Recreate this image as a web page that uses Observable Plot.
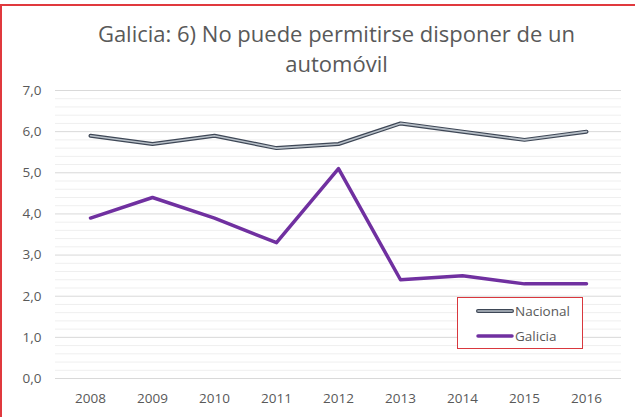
<!DOCTYPE html>
<html>
<head>
<meta charset="utf-8">
<script src="https://cdn.jsdelivr.net/npm/d3@7"></script>
<script src="https://cdn.jsdelivr.net/npm/@observablehq/plot@0.6"></script>
<style>
  html, body { margin: 0; padding: 0; background: #fff; }
  #wrap { position: relative; width: 635px; height: 417px; overflow: hidden; font-family: "Open Sans", sans-serif; }
  #frame { position: absolute; left: 0; top: 4px; width: 700px; height: 500px; border-left: 2px solid #e0393e; border-top: 2px solid #e0393e; box-sizing: border-box; pointer-events: none; }
  #title { position: absolute; left: 19px; width: 635px; top: 18px; text-align: center; color: #595959; font-size: 22px; line-height: 30px; }
  #chart { position: absolute; left: 0; top: 0; }
  #legend { position: absolute; left: 457px; top: 297px; width: 126px; height: 52px; border: 1px solid #d9383e; box-sizing: border-box; background: #fff; color: #595959; font-size: 13.5px; }
  .item { position: absolute; left: 18px; height: 20px; display: flex; align-items: center; }
  .item svg { margin-right: 1px; }
</style>
</head>
<body>
<div id="wrap">
  <div id="chart"></div>
  <div id="title">Galicia: 6) No puede permitirse disponer de un<br>automóvil</div>
  <div id="legend"></div>
  <div id="frame"></div>
</div>
<script>
const years = ["2008","2009","2010","2011","2012","2013","2014","2015","2016"];
const nacional = [5.9, 5.7, 5.9, 5.6, 5.7, 6.2, 6.0, 5.8, 6.0];
const galicia = [3.9, 4.4, 3.9, 3.3, 5.1, 2.4, 2.5, 2.3, 2.3];
const yMajorTicks = [0, 1, 2, 3, 4, 5, 6, 7];
const yMinorTicks = d3.range(0, 36).map(i => i / 5);
const seriesNames = ["Nacional", "Galicia"];

const nacData = years.map((y, i) => ({year: y, value: nacional[i]}));
const galData = years.map((y, i) => ({year: y, value: galicia[i]}));

const fmt = d => d.toFixed(1).replace(".", ",");

const plot = Plot.plot({
  width: 635,
  height: 417,
  marginLeft: 55,
  marginRight: 14,
  marginTop: 90,
  marginBottom: 39,
  style: {fontFamily: "Open Sans, sans-serif", fontSize: "13.5px", color: "#595959", background: "transparent"},
  x: {type: "point", domain: years, padding: 0.5, label: null},
  y: {domain: [0, 7], label: null},
  marks: [
    Plot.ruleY(yMinorTicks.filter(v => Math.abs(v - Math.round(v)) > 1e-9), {stroke: "#efefef", strokeWidth: 1}),
    Plot.ruleY(yMajorTicks, {stroke: "#d9d9d9", strokeWidth: 1}),
    Plot.axisY({ticks: yMajorTicks, tickFormat: fmt, tickSize: 0, tickPadding: 14, fill: "#595959"}),
    Plot.axisX({tickSize: 0, tickPadding: 15, fill: "#595959"}),
    Plot.line(nacData, {x: "year", y: "value", stroke: "#3e4756", strokeWidth: 4, strokeLinejoin: "round", strokeLinecap: "round"}),
    Plot.line(nacData, {x: "year", y: "value", stroke: "#b8c0c8", strokeWidth: 1.6, strokeLinejoin: "round", strokeLinecap: "round"}),
    Plot.line(galData, {x: "year", y: "value", stroke: "#7030a0", strokeWidth: 3.5, strokeLinejoin: "round", strokeLinecap: "round"})
  ]
});
document.getElementById("chart").appendChild(plot);

const legend = document.getElementById("legend");
seriesNames.forEach((name, i) => {
  const item = document.createElement("div");
  item.className = "item";
  item.style.top = (i === 0 ? 3 : 28) + "px";
  const swatch = i === 0
    ? '<svg width="38" height="8"><line x1="2" y1="4" x2="36" y2="4" stroke="#3e4756" stroke-width="4" stroke-linecap="round"/><line x1="2" y1="4" x2="36" y2="4" stroke="#b8c0c8" stroke-width="1.6" stroke-linecap="round"/></svg>'
    : '<svg width="38" height="8"><line x1="2" y1="4" x2="36" y2="4" stroke="#7030a0" stroke-width="3.5" stroke-linecap="round"/></svg>';
  item.innerHTML = swatch + "<span>" + name + "</span>";
  legend.appendChild(item);
});
</script>
</body>
</html>
